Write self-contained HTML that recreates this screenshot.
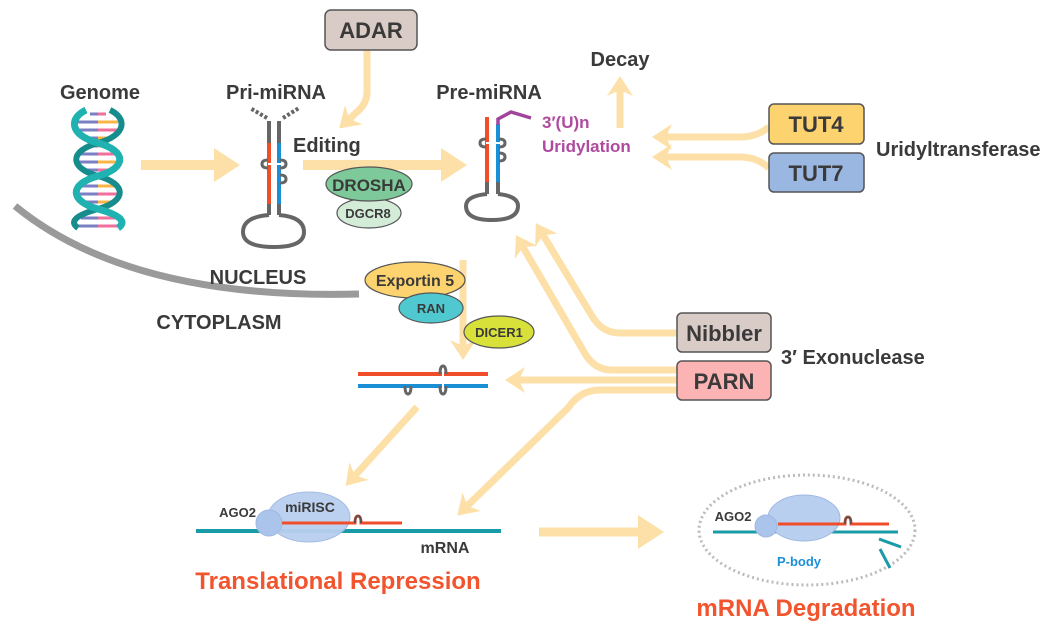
<!DOCTYPE html>
<html><head><meta charset="utf-8">
<style>
html,body{margin:0;padding:0;background:#fff;}
svg{display:block;}
text{font-family:"Liberation Sans",Arial,sans-serif;font-weight:bold;fill:#3a3a3a;}
</style></head>
<body>
<svg width="1063" height="632" viewBox="0 0 1063 632" xmlns="http://www.w3.org/2000/svg">
<defs>
<marker id="a" markerUnits="userSpaceOnUse" markerWidth="24" markerHeight="26" refX="12" refY="13" orient="auto">
<path d="M0,0 L20,13 L0,26 L6,13 Z" fill="#fde0a8"/>
</marker>
<marker id="b" markerUnits="userSpaceOnUse" markerWidth="30" markerHeight="34" refX="14" refY="17" orient="auto">
<path d="M0,0 L26,17 L0,34 Z" fill="#fde0a8"/>
</marker>
</defs>

<!-- connectors -->
<g fill="none" stroke="#fde0a8" stroke-width="7" stroke-linejoin="round">
<path d="M367 50 L367 92 Q367 103 358 111 L345 123" marker-end="url(#a)"/>
<path d="M141 165 L228 165" stroke-width="10" marker-end="url(#b)"/>
<path d="M303 165 L455 165" stroke-width="10" marker-end="url(#b)"/>
<path d="M620 128 L620 84" marker-end="url(#a)"/>
<path d="M769 127 Q757 137 740 137 L660 137" marker-end="url(#a)"/>
<path d="M769 168 Q757 157 740 157 L660 157" marker-end="url(#a)"/>
<path d="M463 260 L463 352" marker-end="url(#a)"/>
<path d="M677 333 L620 333 Q602 333 592 316 L540 230" marker-end="url(#a)"/>
<path d="M677 370 L612 370 Q594 370 584 352 L520 242" marker-end="url(#a)"/>
<path d="M677 380 L513 380" marker-end="url(#a)"/>
<path d="M677 390 L600 390 Q580 390 568 408 L463 510" marker-end="url(#a)"/>
<path d="M417 407 L351 480" marker-end="url(#a)"/>
<path d="M539 532 L652 532" stroke-width="9" marker-end="url(#b)"/>
</g>

<!-- nucleus arc -->
<path d="M15 206 Q130 300 359 294" fill="none" stroke="#9a9a9a" stroke-width="7"/>

<!-- DNA -->
<g fill="none" stroke-width="3">
<g stroke="#7b7fc4">
<line x1="90" y1="114" x2="98" y2="114"/><line x1="78" y1="122" x2="98" y2="122"/><line x1="77" y1="130" x2="98" y2="130"/><line x1="88" y1="138" x2="98" y2="138"/><line x1="92" y1="146" x2="98" y2="146"/><line x1="79" y1="154" x2="98" y2="154"/><line x1="77" y1="162" x2="98" y2="162"/><line x1="86" y1="170" x2="98" y2="170"/><line x1="80" y1="186" x2="98" y2="186"/><line x1="76" y1="194" x2="98" y2="194"/><line x1="85" y1="202" x2="98" y2="202"/><line x1="81" y1="218" x2="98" y2="218"/><line x1="76" y1="226" x2="98" y2="226"/>
</g>
<g stroke="#f06f9b">
<line x1="98" y1="114" x2="106" y2="114"/><line x1="98" y1="130" x2="119" y2="130"/><line x1="98" y1="154" x2="117" y2="154"/><line x1="98" y1="170" x2="110" y2="170"/><line x1="98" y1="194" x2="120" y2="194"/><line x1="98" y1="218" x2="115" y2="218"/><line x1="98" y1="226" x2="120" y2="226"/>
</g>
<g stroke="#f8b445">
<line x1="98" y1="122" x2="118" y2="122"/><line x1="98" y1="138" x2="108" y2="138"/><line x1="98" y1="146" x2="104" y2="146"/><line x1="98" y1="162" x2="119" y2="162"/><line x1="98" y1="186" x2="116" y2="186"/><line x1="98" y1="202" x2="111" y2="202"/>
</g>
<path d="M110 110 C127 118 127 135 98 143 C69 151 69 168 98 176 C127 184 127 201 98 209 C69 217 72 224 78 228" stroke="#168c8c" stroke-width="6"/>
<path d="M86 110 C69 118 69 135 98 143 C127 151 127 168 98 176 C69 184 69 201 98 209 C127 217 124 224 118 228" stroke="#20b2b0" stroke-width="7"/>
</g>

<!-- ADAR -->
<rect x="325" y="10" width="92" height="40" rx="6" fill="#d9cbc6" stroke="#555" stroke-width="1.5"/>
<text x="371" y="38" font-size="22" text-anchor="middle">ADAR</text>

<text x="100" y="99" font-size="20" text-anchor="middle">Genome</text>
<text x="276" y="99" font-size="20" text-anchor="middle">Pri-miRNA</text>
<text x="489" y="99" font-size="20" text-anchor="middle">Pre-miRNA</text>
<text x="293" y="152" font-size="20">Editing</text>
<text x="620" y="66" font-size="20" text-anchor="middle">Decay</text>

<!-- Pri-miRNA hairpin -->
<g fill="none" stroke-width="4">
<path d="M267 118 L250 108 M283 118 L299 108" stroke="#666" stroke-dasharray="3,2"/>
<path d="M269 121 V143 M279 121 V143 M269 204 V215 M279 204 V215" stroke="#666"/>
<path d="M269 143 V204" stroke="#f04e2b"/>
<path d="M279 143 V204" stroke="#1b8fd6"/>
<path d="M269 215 Q243 217 243 232 Q243 247 274 247 Q304 247 304 232 Q304 217 279 215" stroke="#666"/>
<path d="M268 160 Q262 160 262 164 Q262 168 268 168 M280 160 Q286 160 286 164 Q286 168 280 168 M280 175 Q286 175 286 179 Q286 183 280 183" stroke="#666" stroke-width="3"/>
<line x1="268" y1="164" x2="281" y2="164" stroke="#fff" stroke-width="2"/>
</g>

<!-- DROSHA / DGCR8 -->
<ellipse cx="369" cy="213" rx="32" ry="15" fill="#d3ecd8" stroke="#555" stroke-width="1.2"/>
<ellipse cx="369" cy="184" rx="43" ry="17" fill="#7dc99a" stroke="#555" stroke-width="1.2"/>
<text x="369" y="191" font-size="17" text-anchor="middle">DROSHA</text>
<text x="368" y="218" font-size="13" text-anchor="middle">DGCR8</text>

<!-- Pre-miRNA hairpin -->
<g fill="none" stroke-width="4">
<path d="M487 117 V182" stroke="#f04e2b"/>
<path d="M498 124 V182" stroke="#1b8fd6"/>
<path d="M498 125 V119 L511 112 L531 118" stroke="#a0459b" stroke-width="3.5"/>
<path d="M487 182 V194 M498 182 V194" stroke="#666"/>
<path d="M487 194 Q466 196 466 206 Q466 220 492 220 Q518 220 518 206 Q518 196 498 194" stroke="#666"/>
<path d="M486 139 Q480 139 480 143 Q480 147 486 147 M499 139 Q505 139 505 143 Q505 147 499 147 M499 153 Q505 153 505 157 Q505 161 499 161" stroke="#666" stroke-width="3"/>
<line x1="486" y1="143" x2="500" y2="143" stroke="#fff" stroke-width="2"/>
</g>
<text x="542" y="128" font-size="17" font-weight="normal" style="fill:#b04a9e;font-weight:bold">3′(U)n</text>
<text x="542" y="152" font-size="17" style="fill:#b04a9e">Uridylation</text>

<!-- TUT boxes -->
<rect x="769" y="104" width="95" height="40" rx="5" fill="#fdd36f" stroke="#555" stroke-width="1.5"/>
<text x="816" y="132" font-size="22" text-anchor="middle">TUT4</text>
<rect x="769" y="153" width="95" height="39" rx="5" fill="#99b7e0" stroke="#555" stroke-width="1.5"/>
<text x="816" y="181" font-size="22" text-anchor="middle">TUT7</text>
<text x="876" y="156" font-size="20">Uridyltransferase</text>

<text x="258" y="284" font-size="20" text-anchor="middle">NUCLEUS</text>
<text x="219" y="329" font-size="20" text-anchor="middle">CYTOPLASM</text>

<!-- Exportin / RAN / DICER -->
<ellipse cx="415" cy="280" rx="50" ry="18" fill="#fdd36f" stroke="#555" stroke-width="1.2"/>
<text x="415" y="286" font-size="16" text-anchor="middle">Exportin 5</text>
<ellipse cx="431" cy="308" rx="32" ry="15" fill="#4fc8d0" stroke="#555" stroke-width="1.2"/>
<text x="431" y="313" font-size="13" text-anchor="middle">RAN</text>
<ellipse cx="499" cy="332" rx="35" ry="16" fill="#d8e03a" stroke="#555" stroke-width="1.2"/>
<text x="499" y="337" font-size="13" text-anchor="middle">DICER1</text>

<!-- duplex -->
<g fill="none">
<line x1="358" y1="374" x2="488" y2="374" stroke="#f04e2b" stroke-width="4"/>
<line x1="358" y1="386" x2="488" y2="386" stroke="#1b8fd6" stroke-width="4"/>
<path d="M440 374 Q440 366 443 366 Q446 366 446 374 M440 386 Q440 394 443 394 Q446 394 446 386 M405 386 Q405 394 408 394 Q411 394 411 386" stroke="#666" stroke-width="3"/>
<line x1="443" y1="372" x2="443" y2="388" stroke="#fff" stroke-width="2"/>
</g>

<!-- Nibbler / PARN -->
<rect x="677" y="313" width="94" height="39" rx="5" fill="#d9cbc6" stroke="#555" stroke-width="1.5"/>
<text x="724" y="341" font-size="22" text-anchor="middle">Nibbler</text>
<rect x="677" y="361" width="94" height="39" rx="5" fill="#fbb3b3" stroke="#555" stroke-width="1.5"/>
<text x="724" y="389" font-size="22" text-anchor="middle">PARN</text>
<text x="781" y="364" font-size="20">3′ Exonuclease</text>

<!-- miRISC -->
<line x1="196" y1="531" x2="501" y2="531" stroke="#1a9ba8" stroke-width="4"/>
<ellipse cx="309" cy="517" rx="41" ry="25" fill="#b9cff0" stroke="#9fb8e0" stroke-width="1" opacity="0.95"/>
<circle cx="269" cy="523" r="13" fill="#aac4ec" stroke="#9fb8e0"/>
<path d="M282 523 H355 Q355 516 358 516 Q361 516 361 523 H402" fill="none" stroke="#f04e2b" stroke-width="3"/>
<path d="M355 523 Q355 516 358 516 Q361 516 361 523" fill="none" stroke="#555" stroke-width="2"/>
<text x="256" y="517" font-size="13" text-anchor="end">AGO2</text>
<text x="310" y="512" font-size="14" text-anchor="middle">miRISC</text>
<text x="445" y="553" font-size="16" text-anchor="middle">mRNA</text>
<text x="338" y="589" font-size="24" text-anchor="middle" style="fill:#f2542d">Translational Repression</text>

<!-- P-body -->
<ellipse cx="807" cy="530" rx="108" ry="55" fill="none" stroke="#bbb" stroke-width="3" stroke-dasharray="2,3"/>
<line x1="713" y1="532" x2="898" y2="532" stroke="#1a9ba8" stroke-width="3"/>
<ellipse cx="804" cy="518" rx="36" ry="23" fill="#b9cff0" stroke="#9fb8e0"/>
<circle cx="766" cy="526" r="11" fill="#aac4ec" stroke="#9fb8e0"/>
<path d="M778 524 H845 Q845 517 848 517 Q851 517 851 524 H889" fill="none" stroke="#f04e2b" stroke-width="3"/>
<path d="M845 524 Q845 517 848 517 Q851 517 851 524" fill="none" stroke="#555" stroke-width="2"/>
<line x1="879" y1="539" x2="901" y2="547" stroke="#1a9ba8" stroke-width="3"/>
<line x1="880" y1="549" x2="890" y2="568" stroke="#1a9ba8" stroke-width="3"/>
<text x="733" y="521" font-size="13" text-anchor="middle">AGO2</text>
<text x="799" y="566" font-size="13" text-anchor="middle" style="fill:#1e8fd6">P-body</text>
<text x="806" y="616" font-size="24" text-anchor="middle" style="fill:#f2542d">mRNA Degradation</text>
</svg>
</body></html>
